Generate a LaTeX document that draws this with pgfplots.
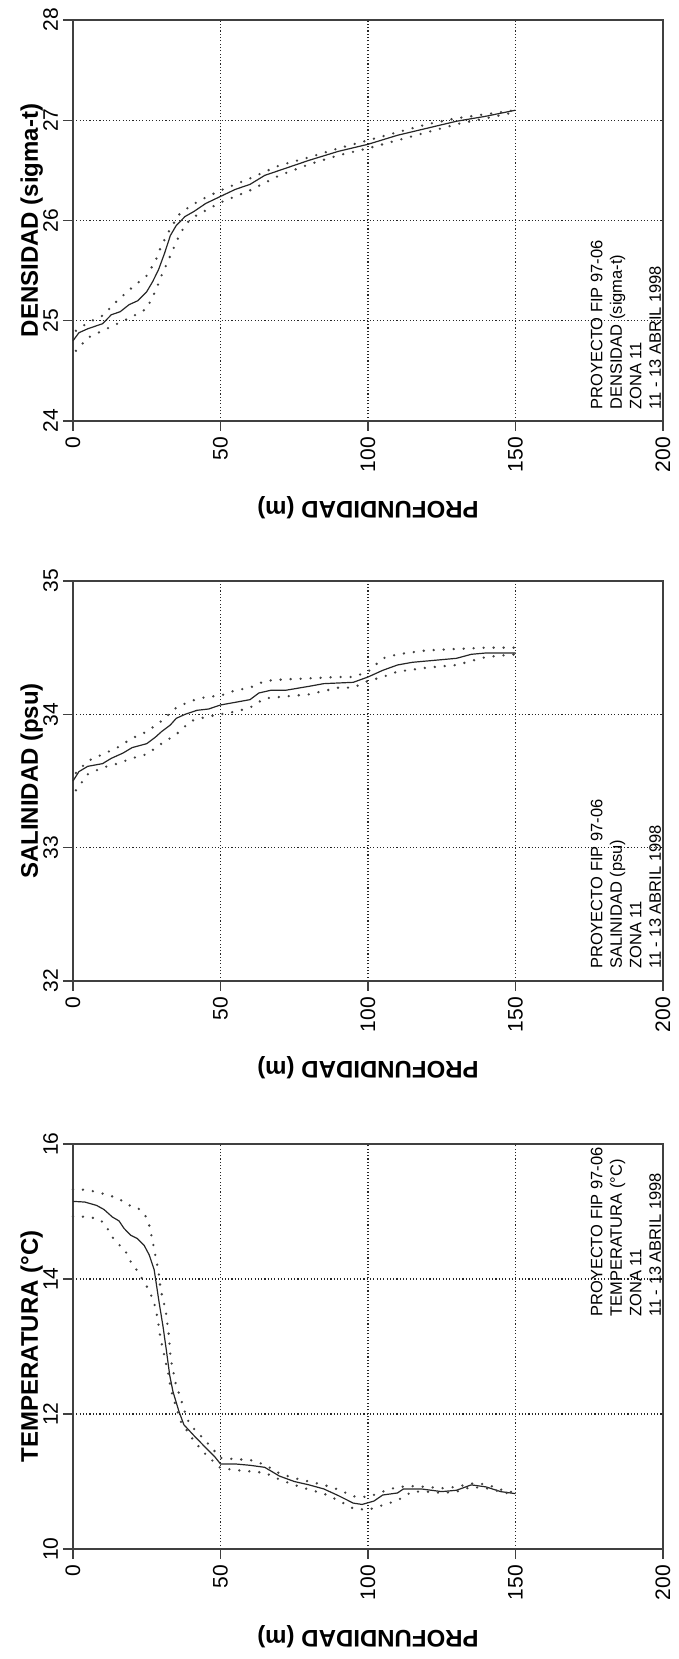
\documentclass[border=0pt]{standalone}
\usepackage{fontspec}
\setmainfont{Liberation Sans}
\usepackage{pgfplots}
\pgfplotsset{compat=1.18}

\pgfplotsset{
  prof/.style={
    scale only axis, width=590pt,
    xmin=0, xmax=200, xtick={0,50,100,150,200},
    axis line style={line width=1.6pt, black!75},
    grid=major,
    major grid style={line width=1.1pt, black!85, dash pattern=on 1.1pt off 2.2pt},
    tick align=outside, xtick pos=left, ytick pos=left,
    major tick length=10pt,
    every tick/.style={line width=1.2pt, black!75},
    tick label style={font=\fontsize{21}{21}\selectfont},
    xticklabel style={rotate=90, anchor=east, inner sep=1pt, xshift=-5pt},
    yticklabel style={rotate=90, anchor=base, yshift=5pt},
    /pgf/number format/assume math mode=true,
    ylabel style={font=\fontsize{24}{24}\selectfont\bfseries, at={(axis description cs:0,0.5)}, anchor=base, yshift=35pt},
    xlabel style={font=\fontsize{24}{24}\selectfont\bfseries, at={(axis description cs:0.5,0)}, anchor=base, rotate=180, yshift=81pt},
    xlabel={PROFUNDIDAD (m)},
    clip=false,
  },
  mean/.style={line width=1.2pt, black!85, no markers},
  sd/.style={line width=2.6pt, black!75, dash pattern=on 0pt off 10pt, line cap=round, no markers},
}
\tikzset{note/.style={rotate=90, align=left, inner sep=0pt, font=\fontsize{16.5}{19.5}\selectfont}}

\begin{document}
\begin{tikzpicture}
\useasboundingbox (0,0) rectangle (679pt,1659pt);

% ---------------- DENSIDAD ----------------
\begin{axis}[prof, at={(73pt,1238pt)}, anchor=south west, height=401pt,
  ymin=24, ymax=28, ytick={24,25,26,27,28}, ylabel={DENSIDAD (sigma-t)}]
\addplot[mean] table {
0 24.80
2 24.88
5 24.92
10 24.97
13 25.06
16 25.09
19 25.16
22 25.20
25 25.29
27 25.39
29 25.51
31 25.67
33 25.85
35 25.95
38 26.04
41 26.09
45 26.17
50 26.24
55 26.31
60 26.36
65 26.45
70 26.50
80 26.60
90 26.69
100 26.76
110 26.85
120 26.92
130 26.99
140 27.04
150 27.10
};
\addplot[sd] table {
1 24.90
5 24.98
10 25.05
15 25.20
20 25.33
25 25.45
28 25.60
30 25.75
33 25.92
36 26.06
40 26.15
45 26.23
50 26.30
60 26.42
70 26.55
80 26.63
90 26.72
100 26.80
110 26.88
120 26.96
130 27.02
140 27.06
150 27.10
};
\addplot[sd] table {
1 24.70
5 24.83
10 24.90
15 24.97
20 25.04
25 25.12
28 25.30
30 25.45
33 25.65
36 25.85
38 25.95
40 26.02
45 26.10
50 26.18
60 26.30
70 26.45
80 26.56
90 26.65
100 26.72
110 26.80
120 26.88
130 26.96
140 27.02
150 27.08
};
\node[note, anchor=south west] at (rel axis cs:0.997,0.028)
  {PROYECTO FIP 97-06\\DENSIDAD (sigma-t)\\ZONA 11\\11 - 13 ABRIL 1998};
\end{axis}

% ---------------- SALINIDAD ----------------
\begin{axis}[prof, at={(73pt,678pt)}, anchor=south west, height=400pt,
  ymin=32, ymax=35, ytick={32,33,34,35}, ylabel={SALINIDAD (psu)}]
\addplot[mean] table {
0 33.50
2 33.57
5 33.61
10 33.63
13 33.67
17 33.71
20 33.75
25 33.78
28 33.83
30 33.87
33 33.92
35 33.97
38 34.00
42 34.03
46 34.04
50 34.07
55 34.09
60 34.11
63 34.16
67 34.18
72 34.18
80 34.21
85 34.23
95 34.24
100 34.28
105 34.33
110 34.37
115 34.39
125 34.41
130 34.42
135 34.45
140 34.46
150 34.46
};
\addplot[sd] table {
1 33.56
5 33.65
10 33.70
15 33.75
20 33.82
25 33.87
30 33.95
35 34.05
40 34.10
45 34.13
50 34.14
55 34.18
60 34.20
65 34.25
70 34.26
80 34.27
90 34.28
95 34.28
100 34.32
105 34.42
110 34.45
120 34.48
130 34.49
140 34.50
150 34.50
};
\addplot[sd] table {
1 33.43
5 33.55
10 33.60
15 33.63
20 33.67
25 33.70
30 33.78
35 33.85
40 33.95
45 33.98
50 34.00
55 34.02
60 34.05
65 34.12
70 34.13
80 34.15
90 34.20
95 34.20
100 34.25
105 34.28
110 34.32
120 34.35
130 34.37
140 34.43
150 34.45
};
\node[note, anchor=south west] at (rel axis cs:0.997,0.03)
  {PROYECTO FIP 97-06\\SALINIDAD (psu)\\ZONA 11\\11 - 13 ABRIL 1998};
\end{axis}

% ---------------- TEMPERATURA ----------------
\begin{axis}[prof, at={(73pt,110pt)}, anchor=south west, height=405pt,
  ymin=10, ymax=16, ytick={10,12,14,16}, ylabel={TEMPERATURA (°C)}]
\addplot[mean] table {
0 15.15
4 15.14
8 15.09
10.5 15.03
13.3 14.92
15.6 14.86
17.3 14.75
19.5 14.65
21.8 14.60
24.1 14.50
25.8 14.36
27.5 14.14
28.2 13.94
29.2 13.65
30.5 13.30
31.6 12.96
32.8 12.57
33.9 12.33
35.9 12.04
37.6 11.84
41 11.68
45 11.50
48 11.37
50 11.26
55 11.26
60 11.24
65 11.21
70 11.08
75 11.00
80 10.95
85 10.89
90 10.79
95 10.68
98 10.66
102 10.71
105 10.80
110 10.83
112 10.89
118 10.89
125 10.85
130 10.87
135 10.95
140 10.92
145 10.85
150 10.82
};
\addplot[sd] table {
0 15.33
4.8 15.32
8.8 15.28
12.2 15.24
15.6 15.19
18.4 15.10
21.8 15.06
24.4 14.95
25.8 14.80
26.7 14.62
27.5 14.45
28.2 14.28
28.9 14.14
29.7 13.84
30.8 13.65
31.6 13.48
32.5 13.16
33.1 12.82
33.9 12.65
34.6 12.48
36.5 12.23
38.7 11.92
41 11.78
45 11.60
50 11.35
55 11.33
60 11.32
65 11.25
70 11.12
75 11.05
80 11.00
85 10.95
90 10.88
95 10.78
100 10.77
105 10.85
110 10.92
115 10.93
120 10.92
125 10.90
130 10.92
135 10.97
140 10.96
145 10.88
150 10.83
};
\addplot[sd] table {
0 14.93
4.8 14.92
8.8 14.89
11.1 14.80
12.8 14.65
15 14.53
17.6 14.43
19.2 14.28
21.2 14.16
24.9 13.90
26.7 13.74
27.8 13.60
28.6 13.43
29.2 13.26
29.7 13.11
30.6 12.94
31.4 12.77
32.2 12.62
32.9 12.45
33.7 12.28
36.5 11.89
38.5 11.76
41 11.60
45 11.40
50 11.20
55 11.17
60 11.15
65 11.13
70 11.03
75 10.95
80 10.88
85 10.82
90 10.72
95 10.60
100 10.58
105 10.65
110 10.72
115 10.85
120 10.85
125 10.83
130 10.85
135 10.92
140 10.90
145 10.85
150 10.80
};
\node[note, anchor=south west] at (rel axis cs:0.997,0.573)
  {PROYECTO FIP 97-06\\TEMPERATURA (°C)\\ZONA 11\\11 - 13 ABRIL 1998};
\end{axis}
\end{tikzpicture}
\end{document}
